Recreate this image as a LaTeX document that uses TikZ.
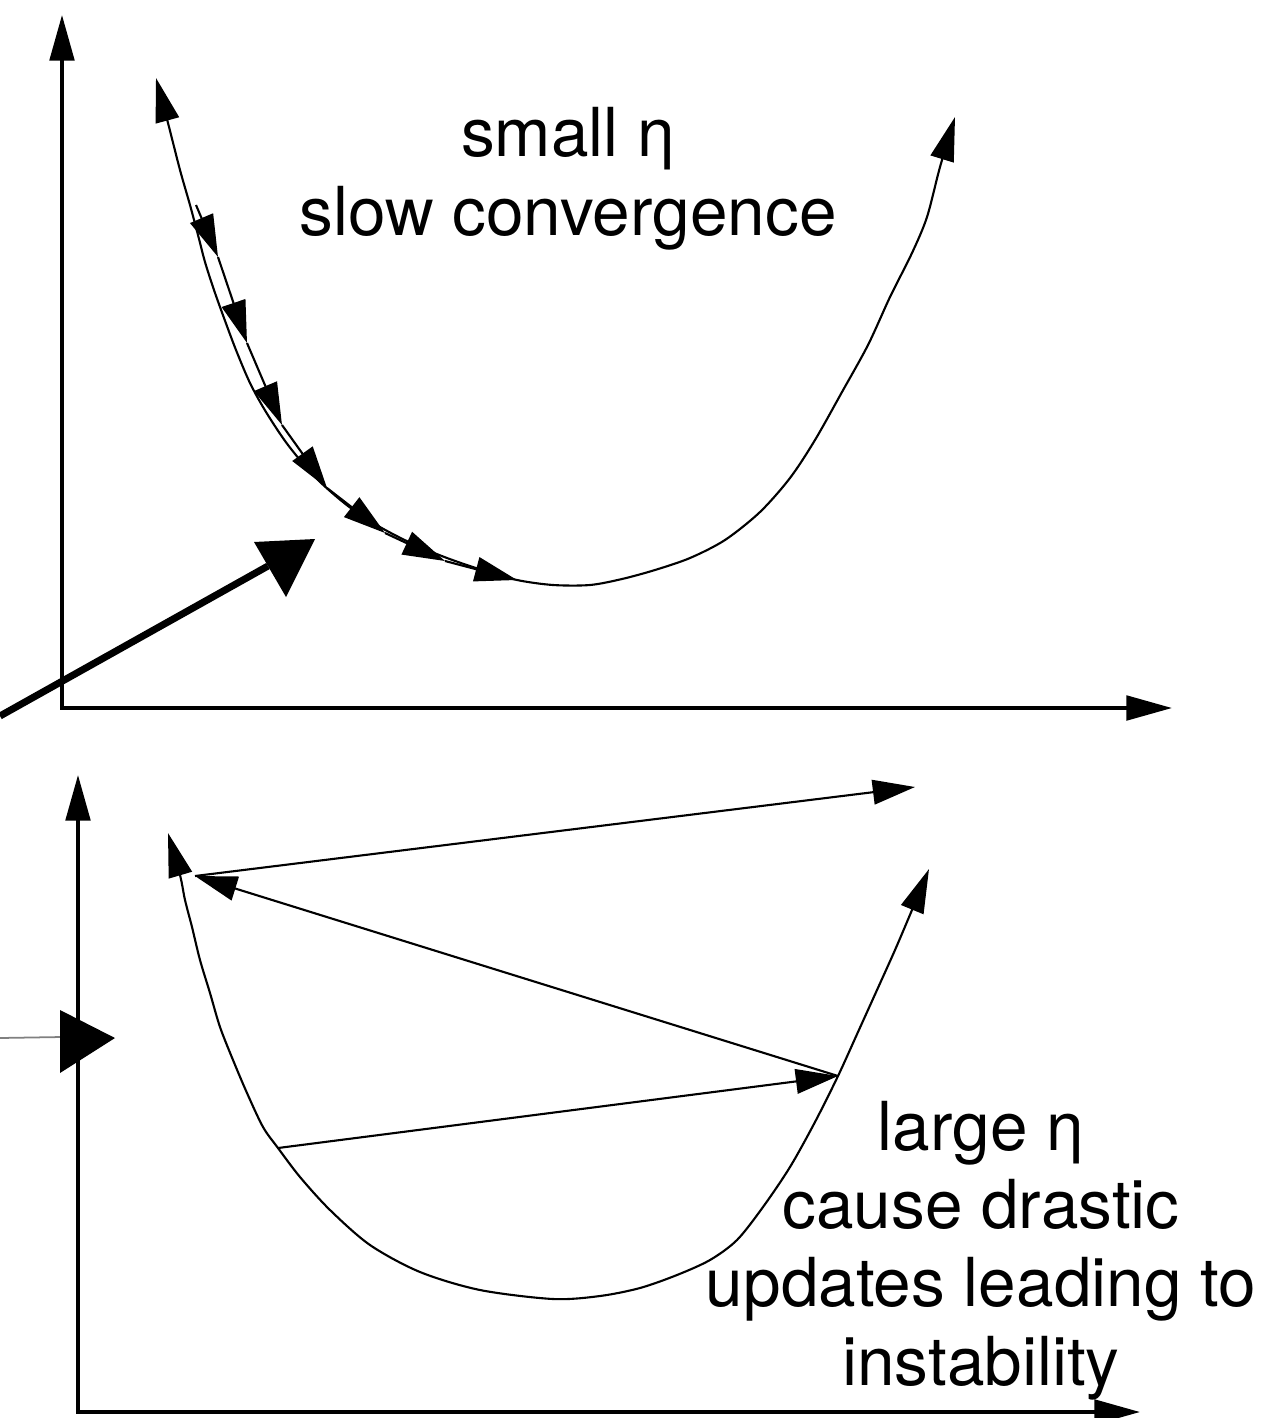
\documentclass[tikz,border=0pt]{standalone}
\usepackage{fontspec}
\setmainfont{TeX Gyre Heros}
\usetikzlibrary{arrows.meta}
\usetikzlibrary{calc}

\begin{document}
\begin{tikzpicture}[x=0.01cm,y=-0.01cm,
  axisline/.style={line width=1pt,{Triangle[length=13pt,width=7pt]}-{Triangle[length=13pt,width=7pt]}},
  loss/.style={line width=0.6pt,{Triangle[length=12.5pt,width=6.8pt]}-{Triangle[length=12.5pt,width=6.8pt]}},
  update/.style={line width=0.6pt,-{Triangle[length=12pt,width=7pt]}},
  pen/.style={line width=2pt},
  lossnote/.style={font=\fontsize{19.2}{22.2}\selectfont,align=center,anchor=base}]
  \useasboundingbox (0,0) rectangle (1272,1418);

  % small eta
  \coordinate (y1) at (62,15);
  \coordinate (o1) at (62,708);
  \coordinate (x1) at (1172,708);
  \draw[axisline] (y1) -- (o1) -- (x1);
  \draw[loss] plot[smooth] coordinates {(156,78) (168,123) (180,170) (190,205) (198,235)
    (205,262) (214,290) (224,318) (236,350) (250,383) (266,412) (288,445) (316,478)
    (348,506) (380,527) (413,544) (447,558) (482,570) (517,580) (553,585) (590,585)
    (622,579) (655,570) (690,558) (725,540) (760,512) (790,478) (815,440) (842,392)
    (868,345) (890,297) (912,253) (927,217) (940,167) (955,117)};
  \foreach \px/\py [count=\k from 0] in {196/205,218/257,247/343,282/425,327/488,385/533,445/561,517/580}
    \coordinate (p\k) at (\px,\py);
  \foreach \i [count=\j from 1] in {0,...,6}
    \draw[update] (p\i) -- (p\j);
  \coordinate (pen1a) at (0,716);
  \coordinate (pen1b) at (268,566);
  \draw[pen] (pen1a) -- (pen1b);
  \fill (254,542) -- (315,539) -- (286,597) -- cycle;
  \node[lossnote] (small) at (568,235) {small η\\slow convergence};

  % large eta
  \coordinate (y2) at (78,775);
  \coordinate (o2) at (78,1412);
  \coordinate (x2) at (1140,1412);
  \draw[axisline] (y2) -- (o2) -- (x2);
  \draw[loss] plot[smooth] coordinates {(168,833) (180,875) (185,900) (192,927) (200,960)
    (210,993) (220,1027) (233,1060) (247,1093) (263,1127) (278,1148) (300,1177) (330,1210)
    (370,1245) (420,1272) (480,1290) (553,1299) (600,1296) (640,1288) (677,1275) (710,1260)
    (737,1240) (763,1207) (790,1167) (815,1122) (838,1076) (858,1032) (877,990) (895,950)
    (912,910) (929,869)};
  \coordinate (q0) at (278,1148);
  \coordinate (q1) at (838,1076);
  \coordinate (q2) at (195,876);
  \coordinate (q3) at (915,787);
  \draw[update] (q0) -- (q1);
  \draw[update] (q1) -- (q2);
  \draw[update] (q2) -- (q3);
  \coordinate (pen2a) at (0,1038);
  \coordinate (pen2b) at (62,1037);
  \draw[gray,line width=0.5pt] (pen2a) -- (pen2b);
  \fill (60,1010) -- (115,1038) -- (60,1073) -- cycle;
  \node[lossnote] (large) at (981,1385) {large η\\cause drastic\\updates leading to\\instability};
\end{tikzpicture}
\end{document}
